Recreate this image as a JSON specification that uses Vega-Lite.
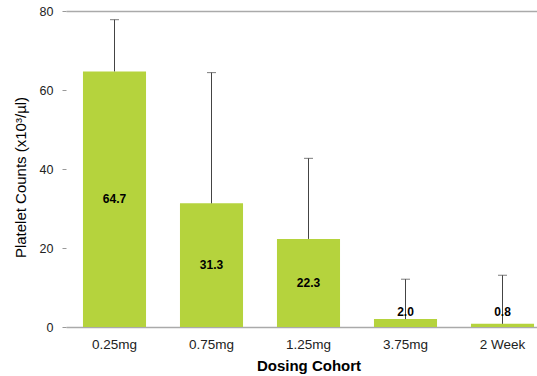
{
  "$schema": "https://vega.github.io/schema/vega-lite/v6.json",
  "autosize": "none",
  "width": 471,
  "height": 316,
  "padding": {"left": 66, "top": 11, "right": 0, "bottom": 49},
  "background": "white",
  "config": {
    "view": {"stroke": null},
    "font": "Liberation Sans"
  },
  "data": {
    "values": [
      {"cohort": "0.25mg", "count": 64.7, "upper": 77.8},
      {"cohort": "0.75mg", "count": 31.3, "upper": 64.4},
      {"cohort": "1.25mg", "count": 22.3, "upper": 42.7},
      {"cohort": "3.75mg", "count": 2.0, "upper": 12.1},
      {"cohort": "2 Week", "count": 0.8, "upper": 13.1}
    ]
  },
  "encoding": {
    "x": {
      "field": "cohort",
      "type": "nominal",
      "sort": null,
      "scale": {"range": [0, 485], "paddingInner": 0.35, "paddingOuter": 0.175},
      "axis": {
        "title": "Dosing Cohort",
        "titleFont": "Liberation Sans",
        "titleFontSize": 15,
        "titleFontWeight": "bold",
        "titleColor": "#000",
        "titlePadding": 8,
        "labelAngle": 0,
        "labelFontSize": 13.5,
        "labelColor": "#222",
        "labelPadding": 10,
        "ticks": false,
        "domainColor": "#aaaaaa",
        "domainWidth": 1.5
      }
    }
  },
  "layer": [
    {
      "mark": {"type": "bar", "color": "#b5d33d"},
      "encoding": {
        "y": {
          "field": "count",
          "type": "quantitative",
          "scale": {"domain": [0, 80], "nice": false},
          "axis": {
            "title": "Platelet Counts (x10³/µl)",
            "titleFontSize": 15,
            "titleFontWeight": "normal",
            "titleColor": "#000",
            "titlePadding": 11,
            "titleY": 166,
            "values": [0, 20, 40, 60, 80],
            "labelFontSize": 12.5,
            "labelColor": "#222",
            "labelPadding": 9,
            "tickSize": 4,
            "tickColor": "#999",
            "domain": false,
            "grid": true,
            "gridColor": "#aaaaaa",
            "gridWidth": 1.5,
            "gridOpacity": {"condition": {"test": "datum.value === 80", "value": 1}, "value": 0}
          }
        }
      }
    },
    {
      "mark": {"type": "rule", "color": "#444", "strokeWidth": 1},
      "encoding": {
        "y": {"field": "count", "type": "quantitative"},
        "y2": {"field": "upper"}
      }
    },
    {
      "mark": {"type": "tick", "color": "#444", "size": 9, "thickness": 1},
      "encoding": {
        "y": {"field": "upper", "type": "quantitative"}
      }
    },
    {
      "transform": [{"calculate": "max(datum.count / 2, 3.8)", "as": "labelY"}],
      "mark": {"type": "text", "fontSize": 12, "fontWeight": "bold", "color": "#000", "baseline": "middle"},
      "encoding": {
        "y": {"field": "labelY", "type": "quantitative"},
        "text": {"field": "count", "type": "quantitative", "format": ".1f"}
      }
    }
  ]
}
